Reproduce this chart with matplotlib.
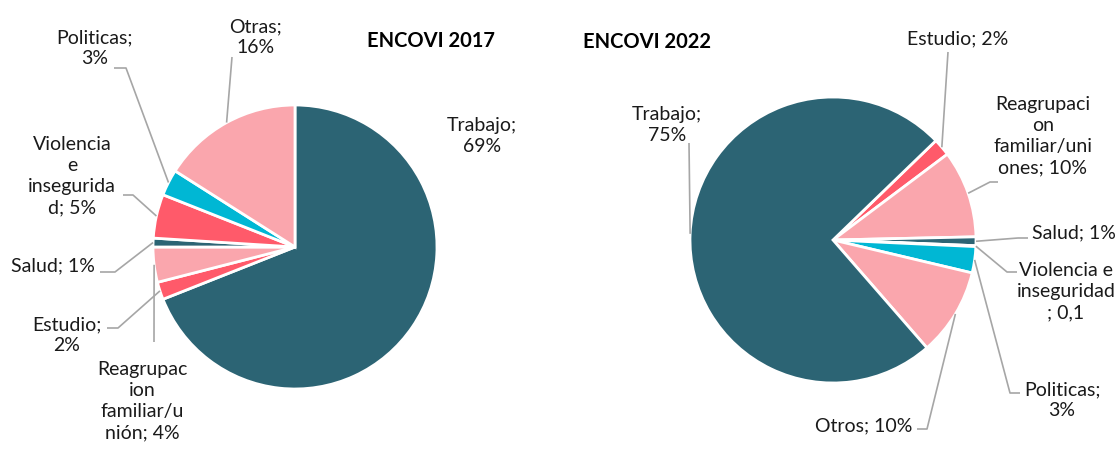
import numpy as np
import matplotlib
matplotlib.use("Agg")
import matplotlib.pyplot as plt

plt.rcParams['font.family'] = ['Lato', 'DejaVu Sans']

# datos (porcentajes)
cat_2017 = ["Trabajo", "Estudio", "Reagrupacion", "Salud", "Violencia", "Politicas", "Otras"]
val_2017 = [69, 2, 4, 1, 5, 3, 16]
lab_2017 = ["Trabajo;\n69%", "Estudio;\n2%", "Reagrupac\nion\nfamiliar/u\nnión; 4%",
            "Salud; 1%", "Violencia\ne\ninsegurida\nd; 5%", "Politicas;\n3%", "Otras;\n16%"]

cat_2022 = ["Estudio", "Reagrupacion", "Salud", "Violencia", "Politicas", "Otros", "Trabajo"]
val_2022 = [2, 10, 1, 0.1, 3, 10, 75]
lab_2022 = ["Estudio; 2%", "Reagrupaci\non\nfamiliar/uni\nones; 10%", "Salud; 1%",
            "Violencia e\ninseguridad\n; 0,1", "Politicas;\n3%", "Otros; 10%", "Trabajo;\n75%"]

colors_2017 = ["#2C6474", "#FF5A6A", "#FAA6AD", "#2C6474", "#FF5A6A", "#00B7D4", "#FAA6AD"]
colors_2022 = ["#FF5A6A", "#FAA6AD", "#2C6474", "#FF5A6A", "#00B7D4", "#FAA6AD", "#2C6474"]

W, H = 1119, 449


def fy(y):
    return H - y


fig = plt.figure(figsize=(W / 100, H / 100), dpi=100)
ax = fig.add_axes([0, 0, 1, 1])

c1, r1 = (295, fy(247)), 142
c2, r2 = (833, fy(240)), 143

w1, _ = ax.pie(val_2017, colors=colors_2017, startangle=90, counterclock=False,
               center=c1, radius=r1, frame=True,
               wedgeprops=dict(edgecolor="white", linewidth=2))
w2, _ = ax.pie(val_2022, colors=colors_2022, startangle=44, counterclock=False,
               center=c2, radius=r2, frame=True,
               wedgeprops=dict(edgecolor="white", linewidth=2))

ax.set_xlim(0, W)
ax.set_ylim(0, H)
ax.set_aspect("equal")
ax.axis("off")

# (texto x, texto y, puntos de quiebre de la linea guia) en pixeles
layout_2017 = [
    (482, 136, None),
    (67, 335, [(107, 328), (118, 328)]),
    (142, 401, [(154, 342)]),
    (53, 266, [(100, 272), (115, 272)]),
    (72, 176, [(123, 195), (133, 195)]),
    (95, 48, [(114, 68), (126, 68)]),
    (256, 37, [(232, 57)]),
]
layout_2022 = [
    (958, 39, [(948, 52)]),
    (1043, 136, [(998, 182), (990, 182)]),
    (1074, 233, [(1028, 238), (1018, 238)]),
    (1066, 292, [(1017, 272), (1007, 272)]),
    (1062, 400, [(1020, 393), (1010, 393)]),
    (864, 426, [(917, 429), (927, 429)]),
    (667, 125, [(689, 143)]),
]


def put_labels(wedges, labels, layout, center, radius):
    for wd, lab, (tx, ty, pts) in zip(wedges, labels, layout):
        ax.text(tx, fy(ty), lab, ha="center", va="center", fontsize=14,
                color="#1a1a1a", linespacing=1.3)
        if pts is None:
            continue
        mid = np.deg2rad((wd.theta1 + wd.theta2) / 2)
        ex = center[0] + radius * np.cos(mid)
        ey = center[1] + radius * np.sin(mid)
        xs = [p[0] for p in pts] + [ex]
        ys = [fy(p[1]) for p in pts] + [ey]
        ax.plot(xs, ys, color="#A6A6A6", linewidth=1.2, solid_capstyle="butt")


put_labels(w1, lab_2017, layout_2017, c1, r1)
put_labels(w2, lab_2022, layout_2022, c2, r2)

ax.text(431, fy(41), "ENCOVI 2017", ha="center", va="center", fontsize=14.5,
        fontweight="bold", color="black")
ax.text(647, fy(42), "ENCOVI 2022", ha="center", va="center", fontsize=14.5,
        fontweight="bold", color="black")

fig.savefig("out.png", dpi=100)
